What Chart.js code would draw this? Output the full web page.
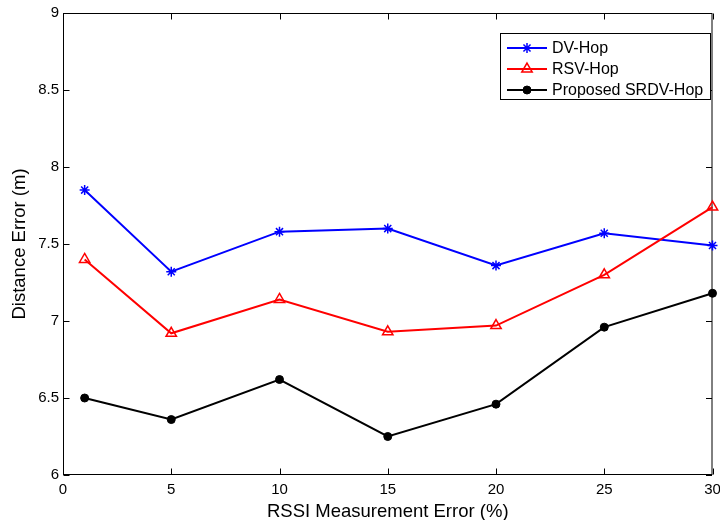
<!DOCTYPE html>
<html>
<head>
<meta charset="utf-8">
<title>Distance Error vs RSSI Measurement Error</title>
<script src="https://cdn.jsdelivr.net/npm/chart.js@4.4.1/dist/chart.umd.min.js"></script>
<style>
html, body { margin: 0; padding: 0; background: #fff; overflow: hidden; }
canvas { display: block; }
</style>
</head>
<body>
<canvas id="errChart" width="720" height="520"></canvas>
<script>

// DATA

const rssiError = [1, 5, 10, 15, 20, 25, 30]
const dvHop = [7.85, 7.32, 7.58, 7.60, 7.36, 7.57, 7.49]
const rsvHop = [7.40, 6.92, 7.14, 6.93, 6.97, 7.30, 7.74]
const srdvHop = [6.50, 6.36, 6.62, 6.25, 6.46, 6.96, 7.18]

const seriesNames = ['DV-Hop', 'RSV-Hop', 'Proposed SRDV-Hop']

const xTicks = ['0', '5', '10', '15', '20', '25', '30']
const yTicks = ['6', '6.5', '7', '7.5', '8', '8.5', '9']

const FONT = '"Liberation Sans", Arial, sans-serif'


function points(ys){
return rssiError.map((x,i)=>({x:x, y:ys[i]}))
}


// box round the plot with inward tick marks on every side

const boxPlugin = {
id:'box',
beforeDatasetsDraw(chart){
const {ctx, chartArea:a, scales:{x, y}} = chart
const L = a.left + 0.5, R = a.right - 0.5, T = a.top + 0.5, B = a.bottom - 0.5
ctx.save()
ctx.strokeStyle = '#000'
ctx.lineWidth = 1
ctx.strokeRect(L, T, R-L, B-T)
ctx.beginPath()
xTicks.forEach(t=>{
const px = Math.round(x.getPixelForValue(Number(t))) + 0.5
ctx.moveTo(px, B); ctx.lineTo(px, B-6)
ctx.moveTo(px, T); ctx.lineTo(px, T+6)
})
yTicks.forEach(t=>{
const py = Math.round(y.getPixelForValue(Number(t))) + 0.5
ctx.moveTo(L, py); ctx.lineTo(L+6, py)
ctx.moveTo(R, py); ctx.lineTo(R-6, py)
})
ctx.stroke()
ctx.restore()
}
}


// legend box in the top right corner of the plot

const legendPlugin = {
id:'boxLegend',
afterDraw(chart){
const ctx = chart.ctx
const left = 500.5, top = 33.5, w = 210, h = 66
ctx.save()
ctx.fillStyle = '#fff'
ctx.strokeStyle = '#000'
ctx.lineWidth = 1
ctx.fillRect(left, top, w, h)
ctx.strokeRect(left, top, w, h)

chart.data.datasets.forEach((ds,i)=>{
const yy = 48 + i*21
ctx.strokeStyle = ds.borderColor
ctx.lineWidth = 2
ctx.beginPath()
ctx.moveTo(507, yy)
ctx.lineTo(547, yy)
ctx.stroke()

// drawPoint fills and strokes with the current context styles
ctx.fillStyle = ds.pointBackgroundColor
ctx.strokeStyle = ds.borderColor
ctx.lineWidth = ds.pointBorderWidth
Chart.helpers.drawPoint(ctx, {
pointStyle: ds.pointStyle,
radius: ds.pointRadius,
borderWidth: ds.pointBorderWidth,
rotation: 0
}, 527, yy)

ctx.fillStyle = '#000'
ctx.font = '16px ' + FONT
ctx.textBaseline = 'middle'
ctx.textAlign = 'left'
ctx.fillText(ds.label, 552, yy + 1)
})
ctx.restore()
}
}


// CHART

const ctx = document.getElementById('errChart')

const errChart = new Chart(ctx,{
type:'line',
data:{
datasets:[{
label:seriesNames[0],
data:points(dvHop),
borderColor:'#0000ff',
pointBackgroundColor:'#0000ff',
pointStyle:'star',
pointRadius:5,
pointBorderWidth:1.5,
order:3
},{
label:seriesNames[1],
data:points(rsvHop),
borderColor:'#ff0000',
pointBackgroundColor:'rgba(255,255,255,0)',
pointStyle:'triangle',
pointRadius:6,
pointBorderWidth:1.5,
order:2
},{
label:seriesNames[2],
data:points(srdvHop),
borderColor:'#000000',
pointBackgroundColor:'#000000',
pointStyle:'circle',
pointRadius:4,
pointBorderWidth:1,
order:1
}]
},
options:{
responsive:false,
devicePixelRatio:1,
animation:false,
clip:false,
datasets:{line:{borderWidth:2, tension:0, fill:false, clip:false}},
layout:{padding:{top:13, right:6, bottom:0, left:0}},
plugins:{
legend:{display:false},
tooltip:{enabled:false}
},
scales:{
x:{
type:'linear',
min:0,
max:30,
grid:{display:false, drawTicks:false},
border:{display:false},
ticks:{
stepSize:5,
padding:6,
color:'#000',
font:{family:FONT, size:15},
maxRotation:0,
callback:(v)=>{ const i = xTicks.indexOf(String(v)); return i < 0 ? '' : xTicks[i] }
},
title:{
display:true,
text:'RSSI Measurement Error (%)',
color:'#000',
font:{family:FONT, size:18.5, lineHeight:1},
padding:{top:0, bottom:-1}
},
afterFit(scale){
scale.height = 45
scale.paddingLeft = 0
scale.paddingRight = 0
}
},
y:{
min:6,
max:9,
grid:{display:false, drawTicks:false},
border:{display:false},
ticks:{
stepSize:0.5,
padding:4,
color:'#000',
font:{family:FONT, size:15},
callback:(v)=>{ const i = yTicks.indexOf(String(v)); return i < 0 ? '' : yTicks[i] }
},
title:{
display:true,
text:'Distance Error (m)',
color:'#000',
font:{family:FONT, size:18.5, lineHeight:1},
padding:{top:11, bottom:0}
},
afterFit(scale){
scale.width = 63
}
}
}
},
plugins:[boxPlugin, legendPlugin]
})

</script>
</body>
</html>
